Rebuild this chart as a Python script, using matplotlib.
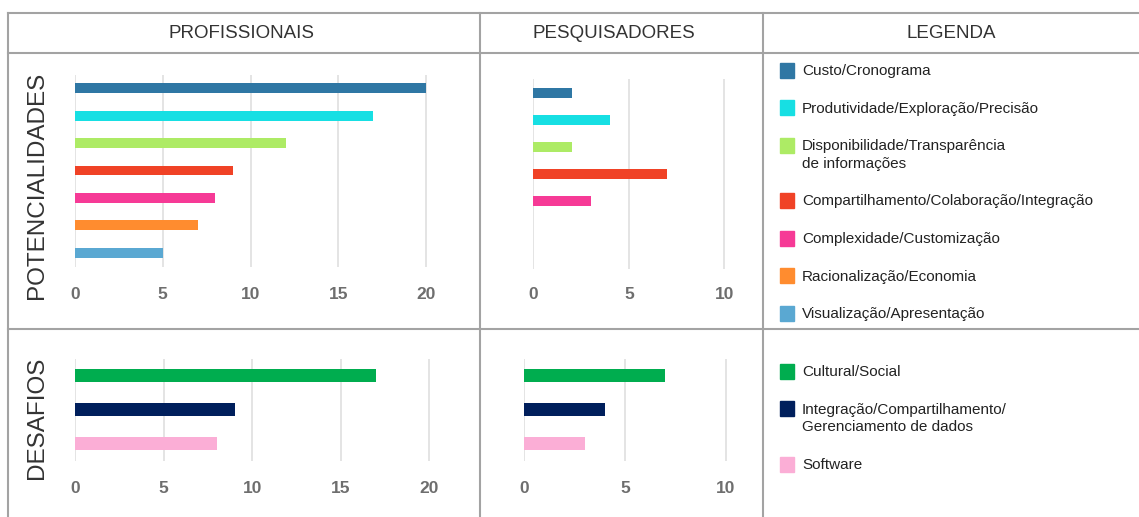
import matplotlib
matplotlib.use("Agg")
import matplotlib.pyplot as plt
from matplotlib.lines import Line2D
from matplotlib.patches import Rectangle

W, H = 1139, 517

# ---------------- data ----------------
pot_labels = ["Custo/Cronograma",
              "Produtividade/Exploração/Precisão",
              "Disponibilidade/Transparência\nde informações",
              "Compartilhamento/Colaboração/Integração",
              "Complexidade/Customização",
              "Racionalização/Economia",
              "Visualização/Apresentação"]
pot_colors = ["#2f77a4", "#17dfe3", "#adeb65", "#f04226", "#f63a96", "#ff8c2f", "#5aa8d2"]
pot_prof = [20, 17, 12, 9, 8, 7, 5]
pot_pesq = [2, 4, 2, 7, 3, 0, 0]

des_labels = ["Cultural/Social",
              "Integração/Compartilhamento/\nGerenciamento de dados",
              "Software"]
des_colors = ["#00ad4f", "#001f5c", "#fbaed6"]
des_prof = [17, 9, 8]
des_pesq = [7, 4, 3]

col_titles = ["PROFISSIONAIS", "PESQUISADORES", "LEGENDA"]
row_titles = ["POTENCIALIDADES", "DESAFIOS"]
ticks_prof = [0, 5, 10, 15, 20]
ticks_pesq = [0, 5, 10]

# ---------------- figure ----------------
fig = plt.figure(figsize=(W / 100, H / 100), dpi=100)
fig.patch.set_facecolor("white")

def fx(x):
    return x / W

def fy(y):
    return 1 - y / H

def px_axes(x0, y0, x1, y1):
    return fig.add_axes([fx(x0), fy(y1), (x1 - x0) / W, (y1 - y0) / H])

LINE = "#a3a3a3"
for y in (13, 53, 329):
    fig.add_artist(Line2D([fx(8), fx(1139)], [fy(y), fy(y)], color=LINE, lw=1.5))
for x in (8, 479.5, 763):
    fig.add_artist(Line2D([fx(x), fx(x)], [fy(13), fy(517)], color=LINE, lw=1.5))

# headers
hdr_x = [241, 614, 951]
for t, x in zip(col_titles, hdr_x):
    fig.text(fx(x), fy(33), t, ha="center", va="center", fontsize=13.5,
             family="Liberation Sans", color="#333333")

# row titles
fig.text(fx(37), fy(185), row_titles[0], rotation=90, ha="center", va="center",
         fontsize=17.5, family="Liberation Sans", color="#333333")
fig.text(fx(37), fy(418), row_titles[1], rotation=90, ha="center", va="center",
         fontsize=17.5, family="Liberation Sans", color="#333333")

def panel(rect, values, colors, xmax, ticks, nslots, bar_h, pad):
    ax = px_axes(*rect)
    idx = list(range(len(values)))
    ax.barh(idx, values, height=bar_h, color=colors[:len(values)], zorder=3)
    ax.set_xlim(0, xmax)
    ax.set_ylim(nslots - 0.5, -0.5)
    ax.set_xticks(ticks)
    ax.set_yticks([])
    ax.grid(axis="x", color="#dcdcdc", lw=1.1, zorder=0)
    for s in ax.spines.values():
        s.set_visible(False)
    ax.tick_params(axis="x", length=0, pad=pad, labelsize=12.5, labelcolor="#6e6e6e")
    for lab in ax.get_xticklabels():
        lab.set_fontweight("bold")
        lab.set_family("Liberation Sans")
    ax.set_facecolor("none")
    return ax

# potencialidades: profissionais (0 at x=75, 20 at x=426)
panel((75, 74.5, 75 + 21 * 17.55, 266.5), pot_prof, pot_colors, 21, ticks_prof, 7, 0.36, 15)
# potencialidades: pesquisadores (0 at 533.3, 10 at 724.3)
panel((533.3, 79.5, 533.3 + 11 * 19.1, 268.5), pot_pesq, pot_colors, 11, ticks_pesq, 7, 0.37, 13.5)
# desafios: profissionais (0 at 75.3, 20 at 429)
panel((75.3, 358.8, 75.3 + 21 * 17.69, 460.5), des_prof, des_colors, 21, ticks_prof, 3, 0.385, 15)
# desafios: pesquisadores (0 at 524, 10 at 726)
panel((524, 358.8, 524 + 11 * 20.2, 460.5), des_pesq, des_colors, 11, ticks_pesq, 3, 0.385, 15)

# legends
def legend(labels, colors, y0, step=37.5, extra=18):
    y = y0
    for lab, c in zip(labels, colors):
        n = lab.count("\n")
        fig.add_artist(Rectangle((fx(779.5), fy(y + 7.5)), 15 / W, 15 / H,
                                 color=c, transform=fig.transFigure))
        fig.text(fx(802), fy(y + 1 + n * extra / 2), lab, ha="left", va="center",
                 fontsize=11, family="Liberation Sans", color="#222222",
                 linespacing=1.3)
        y += step + n * extra

legend(pot_labels, pot_colors, 70)
legend(des_labels, des_colors, 371)

fig.savefig("out.png", dpi=100, facecolor="white")
